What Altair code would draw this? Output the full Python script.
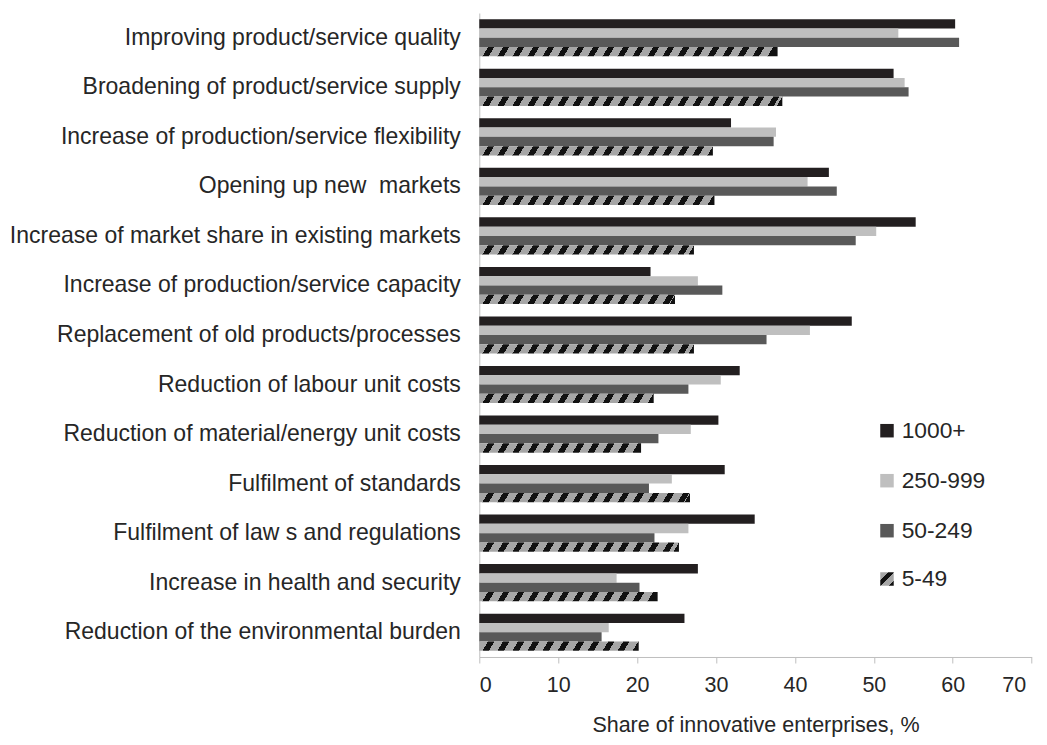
import altair as alt
import pandas as pd

categories = [
    "Improving product/service quality",
    "Broadening of product/service supply",
    "Increase of production/service flexibility",
    "Opening up new\u00a0 markets",
    "Increase of market share in existing markets",
    "Increase of production/service capacity",
    "Replacement of old products/processes",
    "Reduction of labour unit costs",
    "Reduction of material/energy unit costs",
    "Fulfilment of standards",
    "Fulfilment of law s and regulations",
    "Increase in health and security",
    "Reduction of the environmental burden",
]
series = ["1000+", "250-999", "50-249", "5-49"]
v1000 = [60.3, 52.5, 31.9, 44.3, 55.3, 21.7, 47.2, 33.0, 30.3, 31.1, 34.9, 27.7, 26.0]
v250 = [53.1, 53.9, 37.6, 41.6, 50.3, 27.7, 41.9, 30.6, 26.8, 24.4, 26.5, 17.4, 16.4]
v50 = [60.8, 54.4, 37.3, 45.3, 47.7, 30.8, 36.4, 26.5, 22.7, 21.5, 22.2, 20.3, 15.5]
v5 = [37.8, 38.4, 29.6, 29.8, 27.2, 24.8, 27.2, 22.1, 20.5, 26.7, 25.3, 22.6, 20.2]
x_ticks = [0, 10, 20, 30, 40, 50, 60, 70]
colors = ["#231f20", "#bfbfbf", "#595959", "#a6a6a6"]

values = {"1000+": v1000, "250-999": v250, "50-249": v50, "5-49": v5}
rows = []
for s in series:
    for c, v in zip(categories, values[s]):
        rows.append({"Category": c, "Series": s, "Value": v})
df = pd.DataFrame(rows)

W = 552.4
H = 644
XMAX = 70
FONT = "Liberation Sans"
TEXT = "#262626"
AXIS = "#bfbfbf"
HATCH_GRAY = "#a6a6a6"
HATCH_BLACK = "#111111"

BAND_PAD_IN = 0.25
BAND_PAD_OUT = 0.125
bar_h = H / (len(categories) - BAND_PAD_IN + 2 * BAND_PAD_OUT) * (1 - BAND_PAD_IN) / len(series)


def hatch(L, h, period=15.0, black=0.42, k=0.6):
    n = L / period
    r = k * h / L
    stops = []
    i = 0
    while i / n < 1.0:
        a = i / n
        b = min((i + 1 - black) / n, 1.0)
        c = min((i + 1) / n, 1.0)
        stops += [(a, HATCH_GRAY), (b, HATCH_GRAY), (b, HATCH_BLACK), (c, HATCH_BLACK)]
        i += 1
    return alt.LinearGradient(
        gradient="linear",
        stops=[alt.GradientStop(offset=o, color=col) for o, col in stops],
        x1=0, y1=0, x2=1, y2=r,
    )


y_enc = alt.Y(
    "Category:N",
    sort=categories,
    scale=alt.Scale(domain=categories, paddingInner=BAND_PAD_IN, paddingOuter=BAND_PAD_OUT),
    axis=alt.Axis(
        title=None, ticks=False, labelFontSize=23, labelPadding=19, labelLimit=600,
        domainColor=AXIS, labelColor=TEXT, labelFont=FONT,
    ),
)
yoff = alt.YOffset("Series:N", sort=series, scale=alt.Scale(domain=series, paddingInner=0, paddingOuter=0))
x_enc = alt.X(
    "Value:Q",
    scale=alt.Scale(domain=[0, XMAX], nice=False),
    axis=alt.Axis(
        values=x_ticks, title="Share of innovative enterprises, %", grid=False,
        tickSize=6, tickColor=AXIS, domainColor=AXIS,
        labelFontSize=21.5, labelFont=FONT, labelColor=TEXT, labelPadding=12,
        labelOffset={"condition": {"test": "datum.value == 70", "value": -6}, "value": 0},
        titleFontSize=21.5, titleFont=FONT, titleColor=TEXT, titleFontWeight="normal",
        titlePadding=18,
    ),
)

solid = (
    alt.Chart(df)
    .transform_filter(alt.datum.Series != "5-49")
    .mark_bar()
    .encode(
        x=x_enc, y=y_enc, yOffset=yoff,
        color=alt.Color("Series:N", scale=alt.Scale(domain=series, range=colors), legend=None),
    )
)

hatched = []
for c, v in zip(categories, v5):
    L = v * W / XMAX
    hatched.append(
        alt.Chart(df)
        .transform_filter((alt.datum.Category == c) & (alt.datum.Series == "5-49"))
        .mark_bar(color=hatch(L, bar_h))
        .encode(x=x_enc, y=y_enc, yOffset=yoff)
    )

# custom legend (placed at the right of the plot)
leg_x_sym = 407.7
leg_x_txt = 422.4
leg_y = [417.7, 467.7, 517.7, 566.0]
legend_layers = []
for i, s in enumerate(series):
    ldf = pd.DataFrame({"label": [s]})
    fill = colors[i] if s != "5-49" else hatch(13.5, 13.5, period=7.0, black=0.42, k=1.0)
    legend_layers.append(
        alt.Chart(ldf).mark_square(size=182, color=fill, opacity=1)
        .encode(x=alt.value(leg_x_sym), y=alt.value(leg_y[i]))
    )
    legend_layers.append(
        alt.Chart(ldf).mark_text(align="left", baseline="middle", fontSize=22.8, font=FONT, color=TEXT)
        .encode(text="label:N", x=alt.value(leg_x_txt), y=alt.value(leg_y[i]))
    )

chart = (
    alt.layer(solid, *hatched, *legend_layers)
    .properties(
        width=W, height=H,
        autosize=alt.AutoSizeParams(type="none"),
        padding={"left": 471.3, "top": 5, "right": 7, "bottom": 80},
    )
    .configure_view(stroke=None)
)

chart.save("out.html", embed_options={"renderer": "svg", "actions": False})
